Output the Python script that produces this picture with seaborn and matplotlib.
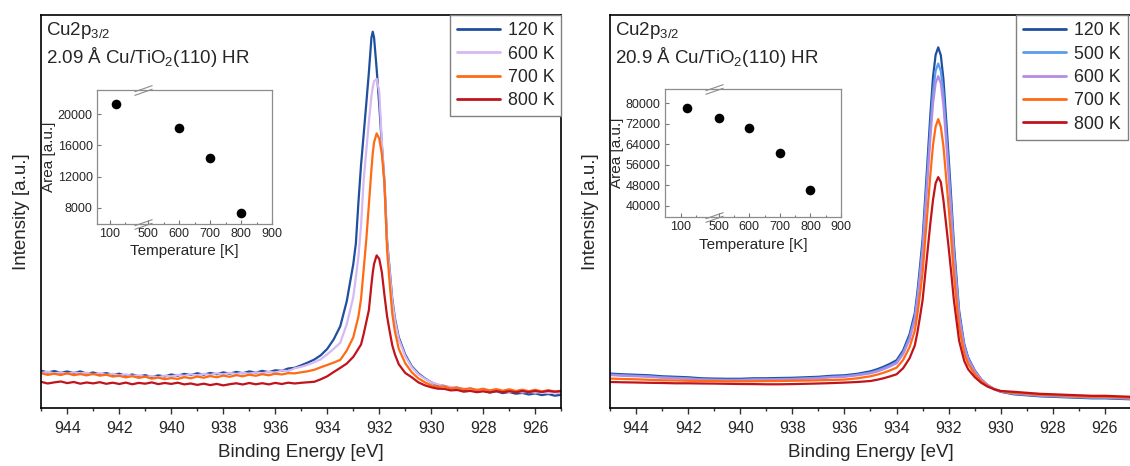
import numpy as np
import pandas as pd
import matplotlib
matplotlib.use("Agg")
import matplotlib.pyplot as plt
import seaborn as sns
from matplotlib.path import Path
from matplotlib.lines import Line2D
from matplotlib.ticker import MultipleLocator, FixedLocator, NullLocator

# ---------------- data: left panel (2.09 Å) ----------------
E_L = [945, 944.75, 944.5, 944.25, 944, 943.75, 943.5, 943.25, 943, 942.75, 942.5, 942.25, 942, 941.75,
       941.5, 941.25, 941, 940.75, 940.5, 940.25, 940, 939.75, 939.5, 939.25, 939, 938.75, 938.5, 938.25,
       938, 937.75, 937.5, 937.25, 937, 936.75, 936.5, 936.25, 936, 935.75, 935.5, 935.25, 935,
       934.75, 934.5, 934.25, 934, 933.75, 933.5, 933.25, 933,
       932.9, 932.8, 932.7, 932.6, 932.5, 932.4, 932.3, 932.25, 932.2, 932.1, 932.0,
       931.9, 931.8, 931.7, 931.6, 931.5, 931.4, 931.25, 931, 930.75, 930.5, 930.25, 930,
       929.75, 929.5, 929.25, 929, 928.75, 928.5, 928.25, 928, 927.75, 927.5, 927.25, 927,
       926.75, 926.5, 926.25, 926, 925.75, 925.5, 925.25, 925]
I_L_120 = [37.5, 35.8, 37.2, 35.6, 36.8, 35.2, 36.9, 34.6, 35.8, 33.9, 35.2, 33.5, 34.6, 32.4,
           33.8, 31.9, 33.1, 31.3, 32.9, 31.8, 33.8, 32.6, 34.4, 33.2, 35.0, 33.6, 35.3, 34.0,
           35.9, 34.6, 36.4, 35.0, 36.9, 35.7, 37.4, 36.1, 38.0, 37.5, 39.8, 40.5, 43,
           45.7, 48.7, 53, 59.4, 69, 82, 107, 144,
           164.7, 206.3, 243.4, 273.7, 304.2, 335.5, 370.5, 376.3, 370.5, 339, 303,
           263, 226, 168, 138.6, 109.6, 90.3, 71, 53.6, 42, 35, 30, 26,
           23.2, 22.4, 20.3, 20.6, 18.4, 18.9, 16.8, 17.5, 15.9, 16.9, 15.2, 16.3,
           14.6, 15.4, 13.8, 14.9, 13.2, 14.3, 12.6, 13.5]
I_L_600 = [35.2, 36.6, 34.8, 36.1, 34.4, 36.0, 34.9, 35.6, 33.8, 35.1, 33.4, 34.5, 32.8, 33.9,
           32.4, 33.0, 31.3, 32.4, 30.9, 32.7, 31.8, 33.5, 32.4, 34.0, 32.9, 34.5, 33.3, 35.0,
           33.9, 35.4, 34.3, 35.6, 34.4, 36.0, 35.0, 36.5, 35.6, 37.8, 37.2, 40.0, 41.5,
           43.5, 46, 49, 54, 59.5, 65.5, 84, 111,
           131, 152, 183, 228, 257, 286, 312, 321, 326.8, 329.2, 316,
           266, 225, 166, 136, 107, 88, 69, 52, 41, 34, 29.5, 26,
           24.0, 22.0, 21.4, 20.0, 19.7, 18.4, 18.6, 17.5, 18.0, 16.9, 17.4, 16.4,
           17.0, 15.9, 16.6, 15.6, 16.3, 15.2, 15.9, 15.0]
I_L_700 = [35.1, 33.4, 34.6, 33.2, 35.0, 33.1, 34.2, 32.9, 34.5, 32.6, 33.6, 31.7, 32.5, 30.9,
           32.1, 30.4, 31.6, 29.6, 30.7, 29.1, 30.2, 29.4, 31.1, 30.0, 31.7, 30.6, 32.2, 31.0,
           32.7, 31.5, 33.1, 32.0, 33.6, 32.5, 34.1, 33.0, 34.6, 33.8, 35.2, 34.9, 36,
           37, 38.5, 41, 43.3, 45.7, 48.4, 57.7, 70.9,
           81.3, 91.8, 109.6, 138.6, 168.2, 203.3, 239, 254.8, 265.7, 274.7, 269.5,
           254, 225, 158, 124.7, 94.5, 77, 59.4, 45, 36, 30, 26, 23,
           21.4, 21.9, 19.8, 20.7, 18.9, 20.1, 18.3, 19.6, 17.8, 19.2, 17.6, 19.0,
           17.3, 18.6, 17.1, 18.5, 16.8, 18.1, 16.7, 17.6]
I_L_800 = [26.4, 24.8, 25.9, 26.8, 25.2, 26.3, 24.6, 25.8, 24.9, 26.1, 24.5, 25.6, 24.3, 25.7,
           24.0, 25.4, 24.6, 25.9, 24.2, 25.3, 24.4, 25.6, 23.9, 24.8, 23.4, 24.6, 23.2, 24.4,
           22.9, 24.1, 25.0, 23.8, 25.3, 24.0, 25.1, 23.9, 25.4, 24.3, 25.6, 24.8, 25.5,
           26, 26.5, 29, 32, 36.3, 40.4, 44.7, 51.4,
           55.4, 59.7, 63.8, 74.2, 86.1, 98, 124, 135.6, 144.3, 152.8, 149.2,
           136, 113, 92, 77, 63, 54, 44, 35.3, 31, 26, 23, 21,
           19.6, 19.4, 17.9, 18.3, 16.6, 17.4, 16.1, 17.0, 15.8, 17.2, 16.0, 17.1,
           15.9, 17.3, 16.2, 17.4, 16.3, 17.5, 16.6, 17.2]
LABELS_L = ["120 K", "600 K", "700 K", "800 K"]
COLORS_L = ["#1f4f9e", "#d6b8f3", "#ff6a13", "#c0131b"]

# ---------------- data: right panel (20.9 Å) ----------------
E_R = [945, 944.5, 944, 943.5, 943, 942.5, 942, 941.5, 941, 940.5, 940, 939.5, 939, 938.5, 938,
       937.5, 937, 936.5, 936, 935.5, 935, 934.75, 934.5, 934.25, 934, 933.75, 933.5,
       933.4, 933.3, 933.2, 933.1, 933.0, 932.9, 932.8, 932.7, 932.6, 932.5, 932.4, 932.3, 932.2,
       932.1, 932.0, 931.9, 931.8, 931.7, 931.6, 931.5, 931.4,
       931.25, 931, 930.75, 930.5, 930.25, 930, 929.5, 929, 928.5, 928, 927.5, 927, 926.5, 926,
       925.5, 925]
I_R_120 = [34.7, 34, 33.5, 33, 32, 31.5, 31, 30, 29.7, 29.5, 29.5, 30, 30, 30.3, 30.5, 31, 31.5, 32.5, 33, 34.5, 37,
           39, 41.5, 44.5, 48, 57.7, 74,
           84.5, 95, 116, 141.6, 169, 210.5, 252.2, 294, 331, 353.2, 360.7, 352.7, 328.7, 290.2, 251,
           209, 164.7, 131.3, 98, 80.5, 64,
           50.6, 38, 29, 23, 19, 16.5,
           14, 13, 12, 11.5, 11, 10.5, 10, 10, 9.5, 9]
I_R_500 = [33.7, 33, 32.5, 32, 31, 30.5, 30, 29, 28.7, 28.5, 28.5, 29, 29, 29.3, 29.5, 30, 30.5, 31.5, 32, 33.5, 35.7,
           37.6, 40.0, 42.8, 46.2, 55.4, 70.9,
           80.9, 90.9, 111.0, 135.4, 161.5, 201.1, 240.9, 280.7, 316.0, 337.3, 344.5, 336.9, 314.1, 277.4, 240.1,
           200.1, 158.0, 126.2, 94.5, 77.9, 62.2,
           49.4, 37.4, 28.8, 23.0, 19.2, 16.8,
           14.5, 13.5, 12.5, 12, 11.5, 11, 10.5, 10.5, 10, 9.5]
I_R_600 = [33.2, 32.5, 32, 31.5, 30.5, 30, 29.5, 28.5, 28.2, 28, 28, 28.5, 28.5, 28.8, 29, 29.5, 30, 31, 31.5, 33, 34.9,
           36.7, 39.0, 41.8, 45.0, 53.9, 68.8,
           78.4, 88.0, 107.3, 130.7, 155.8, 193.9, 232.2, 270.6, 304.6, 324.9, 331.9, 324.7, 302.7, 267.5, 231.7,
           193.3, 152.8, 122.3, 91.8, 75.9, 60.8,
           48.5, 37.0, 28.7, 23.2, 19.5, 17.1,
           15, 14, 13, 12.5, 12, 11.5, 11, 11, 10.5, 10]
I_R_700 = [29.7, 29.3, 29, 28.5, 28, 27.8, 27.5, 27.3, 27.3, 27, 27, 27, 27.2, 27.3, 27.5, 27.7, 28, 28.3, 28.7, 30, 32.0,
           33.6, 35.5, 37.9, 40.6, 48.2, 61.0,
           69.3, 77.5, 94.0, 114.1, 135.6, 168.3, 201.2, 234.1, 263.2, 281.5, 289, 281, 261.9, 231.7, 201.0,
           168.2, 133.5, 107.3, 81.4, 67.7, 54.8,
           44.2, 34.3, 27.2, 22.4, 19.1, 17.0,
           15.5, 14.5, 13.5, 13, 12.5, 12, 11.5, 11.5, 11, 10.5]
I_R_800 = [26.3, 26, 25.8, 25.5, 25.3, 25, 25, 24.8, 24.7, 24.5, 24.3, 24.2, 24, 24, 24.2, 24.5, 24.8, 25.2, 25.7, 26.3, 27.3,
           28.5, 30.0, 31.9, 34.0, 40.0, 50.0,
           56.4, 62.8, 75.7, 91.4, 108.2, 133.8, 159.7, 185.5, 208.3, 225, 231, 226, 207.9, 184.5, 160.6,
           135.2, 108.2, 87.9, 67.8, 57.3, 47.2,
           38.9, 31.2, 25.5, 21.6, 19.0, 17.3,
           16.5, 15.5, 14.5, 14, 13.5, 13, 12.5, 12.5, 12, 11.5]
LABELS_R = ["120 K", "500 K", "600 K", "700 K", "800 K"]
COLORS_R = ["#1f4f9e", "#5b9ded", "#b68be6", "#ff6a13", "#c0131b"]

# ---------------- inset data ----------------
T_L = [120, 600, 700, 800]
AREA_L = [21320, 18280, 14340, 7360]
T_R = [120, 500, 600, 700, 800]
AREA_R = [78170, 74140, 70230, 60590, 46020]
INSET_XTICKS = [100, 500, 600, 700, 800, 900]
INSET_YTICKS_L = [8000, 12000, 16000, 20000]
INSET_YTICKS_R = [40000, 48000, 56000, 64000, 72000, 80000]

# ---------------- style ----------------
sns.set_theme(style="ticks")
plt.rcParams["font.family"] = ["Liberation Sans", "DejaVu Sans"]
plt.rcParams["mathtext.fontset"] = "custom"
plt.rcParams["mathtext.rm"] = "Liberation Sans"
plt.rcParams["mathtext.it"] = "Liberation Sans:italic"
plt.rcParams["mathtext.default"] = "regular"

fig = plt.figure(figsize=(11.3, 4.66), dpi=100)
axL = fig.add_axes([0.0365, 0.1238, 0.4602, 0.844])
axR = fig.add_axes([0.5398, 0.1238, 0.4611, 0.844])

# broken-axis mapping for insets (compress 205..485 K)
XP = [-1000, 205, 485, 3000]
UP = [-1000, 205, 208, 2723]


def fwd(x):
    return np.interp(x, XP, UP)


def inv(u):
    return np.interp(u, UP, XP)


brk_path = Path([(-1, -0.55), (1, 0.15), (-1, -0.15), (1, 0.55)],
                [Path.MOVETO, Path.LINETO, Path.MOVETO, Path.LINETO])


def panel(ax, E, series, labels, colors, line2, leg_x):
    frames = [pd.DataFrame({"E": E, "I": s, "T": lab}) for s, lab in zip(series, labels)]
    df = pd.concat(frames, ignore_index=True)
    sns.lineplot(data=df, x="E", y="I", hue="T", hue_order=labels, palette=dict(zip(labels, colors)),
                 estimator=None, sort=False, lw=1.6, ax=ax, legend=False)
    ax.set_xlim(945, 925)
    ax.set_ylim(0, 393)
    ax.xaxis.set_major_locator(MultipleLocator(2))
    ax.xaxis.set_minor_locator(MultipleLocator(1))
    ax.yaxis.set_major_locator(NullLocator())
    ax.tick_params(axis="x", which="major", direction="out", length=4, width=1, labelsize=11.5, pad=5, color="#333333")
    ax.tick_params(axis="x", which="minor", direction="out", length=2.5, width=1, color="#333333")
    for sp in ax.spines.values():
        sp.set_visible(True)
        sp.set_linewidth(1.2)
        sp.set_color("black")
    ax.set_xlabel("Binding Energy [eV]", fontsize=13.5, labelpad=6)
    ax.set_ylabel("Intensity [a.u.]", fontsize=13.5, labelpad=8)
    ax.text(0.009, 0.949, "Cu2p$_{3/2}$", transform=ax.transAxes, ha="left", va="baseline", fontsize=13.5)
    ax.text(0.009, 0.879, line2, transform=ax.transAxes, ha="left", va="baseline", fontsize=13.5)
    handles = [Line2D([], [], color=c, lw=2) for c in colors]
    leg = ax.legend(handles, labels, loc="upper right", bbox_to_anchor=(leg_x, 1), borderaxespad=0,
                    frameon=True, fancybox=False, edgecolor="#808080", framealpha=1, fontsize=12.8,
                    handlelength=2.4, labelspacing=0.36, borderpad=0.4, handletextpad=0.45)
    leg.get_frame().set_linewidth(1.0)


def inset(rect, T, A, xmin, ylim, yticks):
    ai = fig.add_axes(rect)
    sns.scatterplot(x=T, y=A, color="black", s=48, linewidth=0, ax=ai, zorder=3)
    ai.set_xscale("function", functions=(fwd, inv))
    ai.set_xlim(xmin, 900)
    ai.xaxis.set_major_locator(FixedLocator(INSET_XTICKS))
    ai.xaxis.set_minor_locator(FixedLocator([150, 550, 650, 750, 850]))
    ai.set_xticklabels([str(t) for t in INSET_XTICKS])
    ai.set_ylim(*ylim)
    ai.yaxis.set_major_locator(FixedLocator(yticks))
    ai.set_yticklabels([str(t) for t in yticks])
    ai.tick_params(which="major", direction="in", length=3, width=0.8, labelsize=9, pad=3, color="#777777")
    ai.tick_params(which="minor", direction="in", length=1.8, width=0.8, color="#777777")
    for sp in ai.spines.values():
        sp.set_visible(True)
        sp.set_color("#8c8c8c")
        sp.set_linewidth(0.9)
    ai.set_xlabel("Temperature [K]", fontsize=11, labelpad=3)
    ai.set_ylabel("Area [a.u.]", fontsize=11, labelpad=1)
    for yy in (0, 1):
        ai.plot([345], [yy], marker=brk_path, markersize=13, color="#8c8c8c", mew=0.8,
                transform=ai.get_xaxis_transform(), clip_on=False, zorder=5)
    return ai


panel(axL, E_L, [I_L_120, I_L_600, I_L_700, I_L_800], LABELS_L, COLORS_L, "2.09 Å Cu/TiO$_2$(110) HR", 1.0)
panel(axR, E_R, [I_R_120, I_R_500, I_R_600, I_R_700, I_R_800], LABELS_R, COLORS_R,
      "20.9 Å Cu/TiO$_2$(110) HR", 0.994)

inset([0.0858, 0.5193, 0.1549, 0.2876], T_L, AREA_L, 58, (5900, 23120), INSET_YTICKS_L)
inset([0.5885, 0.5337, 0.1558, 0.2747], T_R, AREA_R, 48, (35470, 85470), INSET_YTICKS_R)

fig.savefig("out.png", dpi=100)
